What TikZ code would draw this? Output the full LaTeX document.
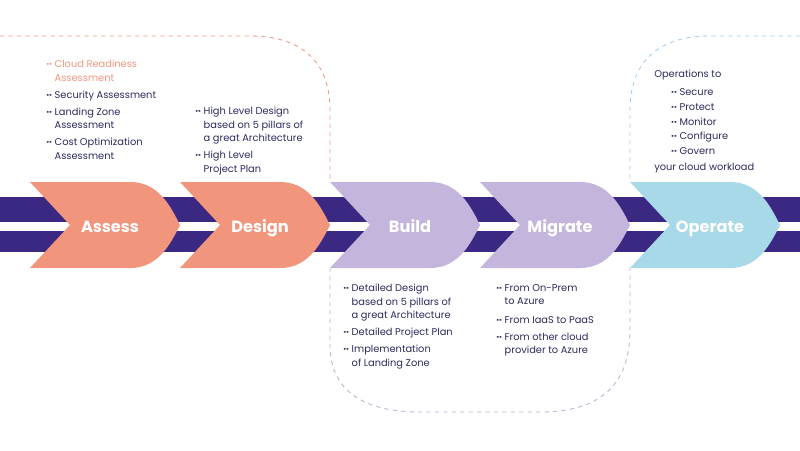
\documentclass[tikz,border=0pt]{standalone}
\usepackage{fontspec}
\setmainfont{Poppins}
\usepackage{tikz}
\usetikzlibrary{positioning, calc}

\definecolor{band}{HTML}{3B2883}
\definecolor{salmon}{HTML}{F1957D}
\definecolor{lilac}{HTML}{C4B5DC}
\definecolor{skyblue}{HTML}{A7D9E8}
\definecolor{navytext}{HTML}{2B2A5E}
\definecolor{greydash}{HTML}{AEB7D2}
\definecolor{bluedash}{HTML}{9FCFEA}

\newcommand{\itm}{\makebox[6pt][l]{\textbf{··}}}
\newcommand{\ind}{\hspace*{6pt}}

\tikzset{
  steplabel/.style={anchor=base, text=white, font=\fontsize{11.5}{13}\selectfont\bfseries},
  notes/.style={anchor=north west, inner sep=0pt, align=left, text=navytext,
    font=\fontsize{7}{9.6}\selectfont},
  outline/.style={dashed, line width=0.6pt}
}

\begin{document}
\begin{tikzpicture}[x=0.025cm, y=-0.025cm]
  \useasboundingbox (0,0) rectangle (800,450);

  % 背景带
  \fill[band] (0,197) rectangle (800,252);
  \fill[white] (0,222) rectangle (800,231);

  % 虚线轮廓
  \draw[salmon, outline] (0,36) -- (250,36)
    .. controls (310,36) and (330,70) .. (330,110) -- (330,182);
  \draw[bluedash, outline] (800,36) -- (710,36)
    .. controls (650,36) and (630,70) .. (630,110) -- (630,182);
  \draw[greydash, outline] (330,268) -- (330,345)
    .. controls (330,395) and (370,412) .. (420,412) -- (540,412)
    .. controls (600,412) and (630,385) .. (630,330) -- (630,268);

  % 箭头块
  \foreach \x/\col/\lab in {30/salmon/Assess, 180/salmon/Design, 330/lilac/Build,
                            480/lilac/Migrate, 630/skyblue/Operate}{
    \fill[\col] (\x,182) -- (\x+100,182)
      .. controls (\x+128,182) and (\x+140,205) .. (\x+150,225)
      .. controls (\x+140,245) and (\x+128,268) .. (\x+100,268)
      -- (\x,268) -- (\x+40,225) -- cycle;
    \node[steplabel] (n\lab) at (\x+80,232) {\lab};
  }

  % 说明文字
  \node[notes] (assessnotes) at (46,60)
    {\textcolor{salmon}{\itm Cloud Readiness}\\
     \textcolor{salmon}{\ind Assessment}\\[2.5pt]
     \itm Security Assessment\\[2.5pt]
     \itm Landing Zone\\ \ind Assessment\\[2.5pt]
     \itm Cost Optimization\\ \ind Assessment};
  \node[notes] (designnotes) at (195,107)
    {\itm High Level Design\\ \ind based on 5 pillars of\\ \ind a great Architecture\\[2.5pt]
     \itm High Level\\ \ind Project Plan};
  \node[notes, font=\fontsize{7}{10.4}\selectfont] (operatenotes) at (654,70)
    {Operations to\\[2.5pt]
     \hspace*{12pt}\itm Secure\\ \hspace*{12pt}\itm Protect\\ \hspace*{12pt}\itm Monitor\\
     \hspace*{12pt}\itm Configure\\ \hspace*{12pt}\itm Govern\\[1pt]
     your cloud workload};
  \node[notes] (buildnotes) at (343,284)
    {\itm Detailed Design\\ \ind based on 5 pillars of\\ \ind a great Architecture\\[2.5pt]
     \itm Detailed Project Plan\\[2.5pt]
     \itm Implementation\\ \ind of Landing Zone};
  \node[notes] (migratenotes) at (496,284)
    {\itm From On-Prem\\ \ind to Azure\\[3.5pt]
     \itm From IaaS to PaaS\\[2.5pt]
     \itm From other cloud\\ \ind provider to Azure};
\end{tikzpicture}
\end{document}
